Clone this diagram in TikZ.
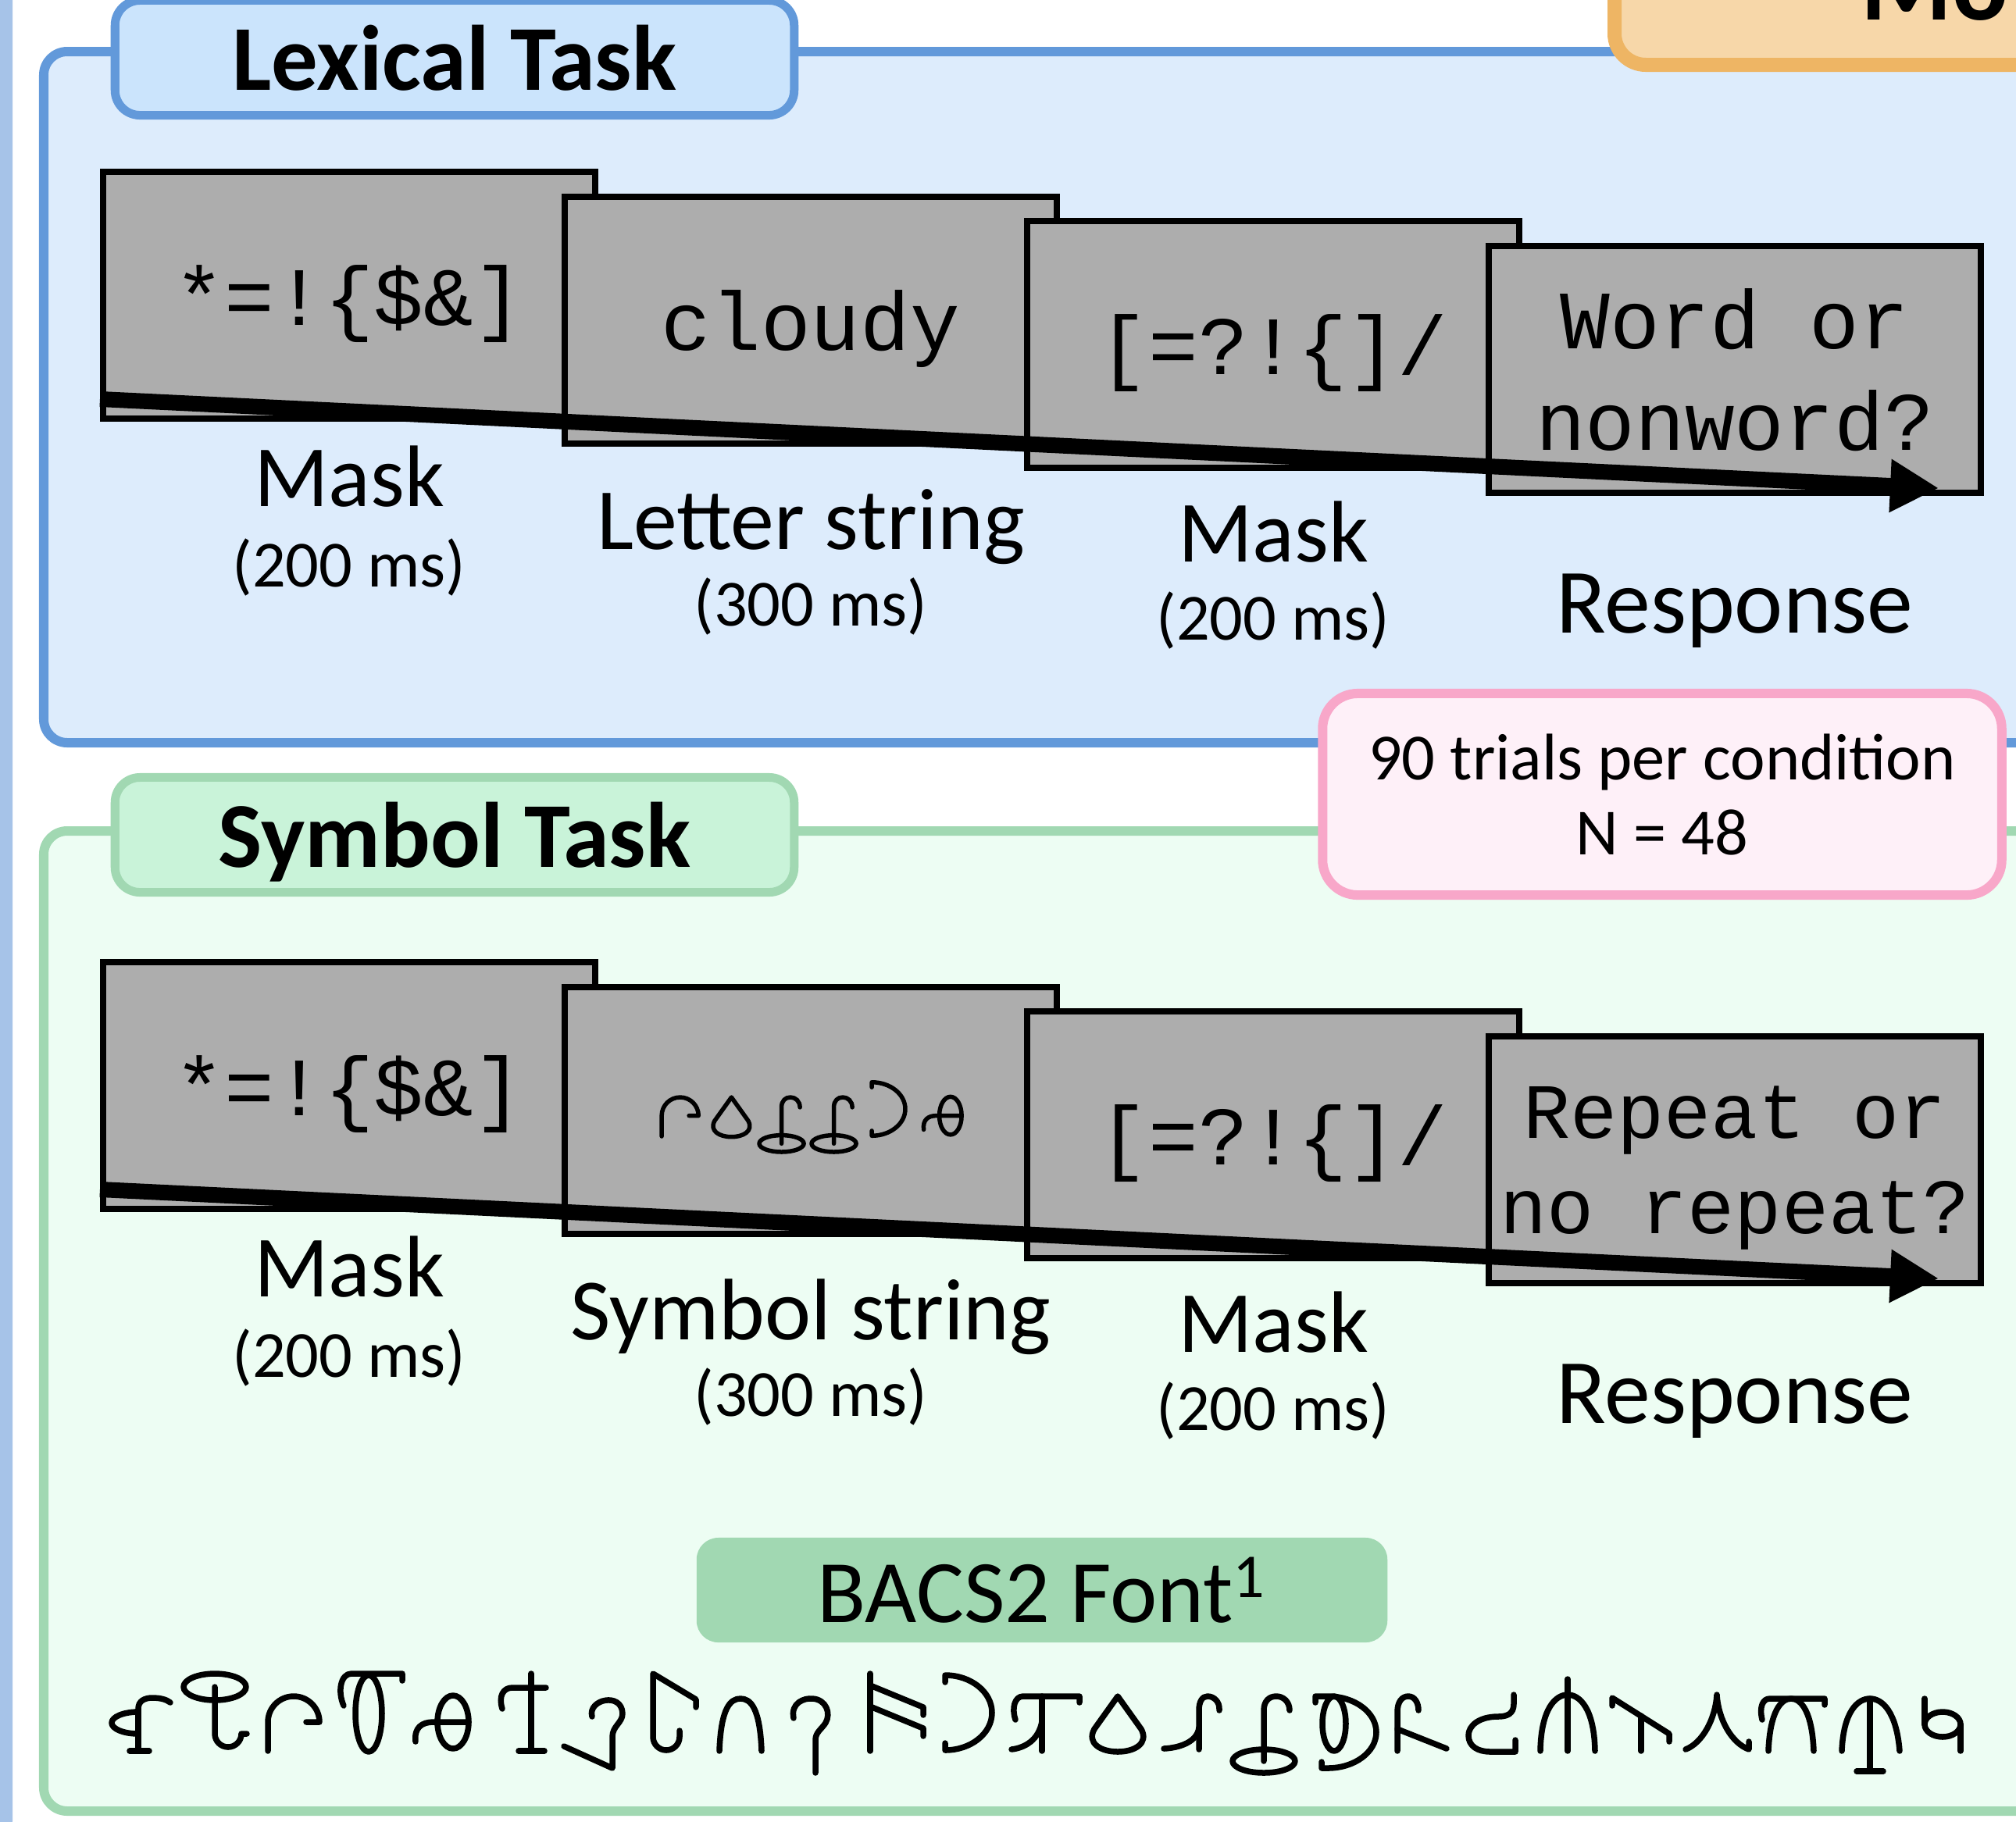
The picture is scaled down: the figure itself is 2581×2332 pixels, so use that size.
\documentclass[tikz,border=0pt]{standalone}
\usepackage{fontspec}
\setmainfont{Carlito}
\newfontfamily\monofont{Liberation Mono}
\usetikzlibrary{arrows.meta, positioning}

\definecolor{stripblue}{HTML}{A6C3E8}
\definecolor{lexfill}{HTML}{DDECFC}
\definecolor{lexline}{HTML}{6299DA}
\definecolor{lextab}{HTML}{CBE4FC}
\definecolor{symfill}{HTML}{EDFDF3}
\definecolor{symline}{HTML}{A1D8B2}
\definecolor{symtab}{HTML}{C9F3D9}
\definecolor{infofill}{HTML}{FEF0F8}
\definecolor{infoline}{HTML}{F8A7C9}
\definecolor{modfill}{HTML}{F7D7A9}
\definecolor{modline}{HTML}{EEB564}
\definecolor{stimgray}{HTML}{ADADAD}

\newcommand\labsize{\fontsize{31.8pt}{36pt}\selectfont}
\newcommand\dursize{\fontsize{24pt}{27.3pt}\selectfont}
\newcommand\tabsize{\fontsize{33.8pt}{38pt}\selectfont}
\newcommand\stimsize{\fontsize{30.2pt}{36.7pt}\selectfont}
\newcommand\respsize{\fontsize{28.5pt}{34.5pt}\selectfont}

% BACS2 glyphs, drawn at x-height 70, baseline at 0
\tikzset{
  hookfoot/.pic={
    \draw[bacs] (25,0) -- (50,0);
    \draw[bacs] (36,0) -- (36,54) .. controls (36,64) and (44,68) .. (54,68) .. controls (64,68) and (72,66) .. (77,62);
    \draw[bacs] (36,50) arc[start angle=90, end angle=270, x radius=34, y radius=14];
  },
  ringstem/.pic={
    \draw[bacs] (42,82) ellipse[x radius=40, y radius=17];
    \draw[bacs] (42,82) -- (42,22) arc[start angle=180, end angle=360, radius=17] -- (83,22);
  },
  archtick/.pic={
    \draw[bacs] (3,0) -- (3,37) arc[start angle=180, end angle=0, radius=33] -- (52,37);
  },
  tallloop/.pic={
    \draw[bacs] (40,48) ellipse[x radius=17, y radius=49];
    \draw[bacs] (8,58) .. controls (0,76) and (4,99) .. (18,99) -- (83,99) -- (83,90);
  },
  thetahook/.pic={
    \draw[bacs] (53,37) ellipse[x radius=20, y radius=34];
    \draw[bacs] (5,12) .. controls (3,30) and (13,37) .. (28,37) -- (73,37);
  },
  crossbar/.pic={
    \draw[bacs] (49,0) -- (49,99);
    \draw[bacs] (12,54) .. controls (7,70) and (13,81) .. (25,81) -- (68,81);
    \draw[bacs] (33,0) -- (66,0);
  },
  glottal/.pic={
    \draw[bacs] (40,44) .. controls (34,66) and (78,76) .. (79,48) .. controls (79,36) and (66,32) .. (66,18) -- (66,-22) -- (4,6);
  },
  flagstem/.pic={
    \draw[bacs] (78,56) -- (78,66) -- (23,99) -- (23,18) arc[start angle=180, end angle=360, radius=17] -- (57,26);
  },
  narrowarch/.pic={
    \draw[bacs] (4,0) .. controls (6,55) and (18,67) .. (31,67) .. controls (44,67) and (56,55) .. (58,0);
  },
  longglottal/.pic={
    \draw[bacs] (4,42) .. controls (0,62) and (18,68) .. (28,67) .. controls (46,66) and (52,48) .. (45,36) .. controls (40,28) and (32,24) .. (32,14) -- (32,-28);
  },
  twinflag/.pic={
    \draw[bacs] (7,0) -- (7,99);
    \draw[bacs] (7,84) -- (75,56) -- (75,46);
    \draw[bacs] (7,57) -- (75,29) -- (75,19);
  },
  bigarc/.pic={
    \draw[bacs] (3,88) -- (3,97) arc[start angle=90, end angle=-90, x radius=60, y radius=48] -- (3,10);
  },
  curlpi/.pic={
    \draw[bacs] (8,40) .. controls (3,55) and (7,70) .. (18,70) -- (90,70) -- (90,62);
    \draw[bacs] (42,70) -- (42,0);
    \draw[bacs] (42,38) .. controls (38,14) and (20,4) .. (3,2);
  },
  drop/.pic={
    \draw[bacs] (37,70) -- (7,28) .. controls (-3,10) and (15,-1) .. (37,-1) .. controls (59,-1) and (77,10) .. (67,28) -- cycle;
  },
  shorthook/.pic={
    \draw[bacs] (75,52) .. controls (76,63) and (68,70) .. (60,70) .. controls (53,70) and (49,63) .. (49,52) -- (49,2);
    \draw[bacs] (49,30) .. controls (47,12) and (25,4) .. (4,3);
  },
  ringhook/.pic={
    \draw[bacs] (40,-13) ellipse[x radius=40, y radius=15];
    \draw[bacs] (40,-13) -- (40,52) .. controls (40,64) and (47,70) .. (56,70) .. controls (65,70) and (73,63) .. (73,52);
  },
  loopcup/.pic={
    \draw[bacs] (28,35) ellipse[x radius=15, y radius=35];
    \draw[bacs] (4,62) -- (4,70) -- (20,70) arc[start angle=90, end angle=-90, x radius=62, y radius=46] -- (12,-22) -- (12,-14);
  },
  kickstem/.pic={
    \draw[bacs] (9,0) -- (9,50) .. controls (9,63) and (15,70) .. (23,70) .. controls (31,70) and (36,62) .. (36,52);
    \draw[bacs] (9,28) -- (72,3);
  },
  zigzag/.pic={
    \draw[bacs] (60,72) -- (60,60) .. controls (60,48) and (52,44) .. (40,44) .. controls (15,44) and (2,32) .. (2,20) .. controls (2,6) and (14,-1) .. (30,-1) -- (62,-1) -- (62,14);
  },
  fork/.pic={
    \draw[bacs] (37,92) -- (37,0);
    \draw[bacs] (2,0) .. controls (3,55) and (22,72) .. (37,72) .. controls (52,72) and (71,55) .. (72,0);
  },
  slash/.pic={
    \draw[bacs] (4,58) -- (4,68) -- (77,22) -- (77,12);
    \draw[bacs] (41,45) -- (41,0);
  },
  peak/.pic={
    \draw[bacs] (4,2) .. controls (25,10) and (42,40) .. (44,72) .. controls (46,40) and (63,10) .. (85,2) -- (85,12);
  },
  archbar/.pic={
    \draw[bacs] (4,40) .. controls (0,57) and (5,67) .. (14,67) -- (84,67) -- (84,59);
    \draw[bacs] (12,0) .. controls (14,50) and (28,67) .. (41,67) .. controls (54,67) and (68,50) .. (70,0);
  },
  forkbase/.pic={
    \draw[bacs] (4,0) .. controls (6,50) and (24,67) .. (40,67) .. controls (56,67) and (74,50) .. (78,0);
    \draw[bacs] (40,67) -- (40,-26);
    \draw[bacs] (23,-26) -- (57,-26);
  },
  bowl/.pic={
    \draw[bacs] (8,67) -- (8,34);
    \draw[bacs] (31,34) ellipse[x radius=23, y radius=16];
    \draw[bacs] (54,34) -- (54,0);
  }
}

\begin{document}
\begin{tikzpicture}[x=0.01cm, y=-0.01cm,
    panel/.style={line width=0.12cm, rounded corners=0.3cm},
    tab/.style={line width=0.11cm, rounded corners=0.32cm, minimum width=8.69cm,
      minimum height=1.47cm, inner sep=0pt, text depth=0pt, font=\tabsize\bfseries},
    stim/.style={draw, line width=0.08cm, fill=stimgray, minimum width=6.3cm,
      minimum height=3.16cm, inner sep=0pt, text depth=0pt, font=\monofont\stimsize},
    lab/.style={anchor=base, inner sep=0pt, font=\labsize},
    dur/.style={anchor=base, inner sep=0pt, font=\dursize},
    trial/.style={line width=0.2cm, -{Triangle[length=0.62cm, width=0.64cm]}},
    bacs/.style={line cap=round, line join=round}]
\useasboundingbox (0,0) rectangle (2581,2332);
\clip (0,0) rectangle (2581,2332);
\fill[white] (0,0) rectangle (2581,2332);

% neighbouring panel on the left
\fill[stripblue, rounded corners=0.2cm] (-100,-20) rectangle (16,2352);

% lexical task panel
\draw[panel, draw=lexline, fill=lexfill] (56,66) rectangle (2700,951);
\draw[line width=0.18cm, rounded corners=0.4cm, draw=modline, fill=modfill] (2067,-100) rectangle (2700,83);
\node[anchor=base west, inner sep=0pt, font=\fontsize{38pt}{40pt}\selectfont\bfseries] (mo) at (2382,25) {Mo};
\node[tab, draw=lexline, fill=lextab] (lextab) at (582,74) {Lexical Task};

% symbol task panel
\draw[panel, draw=symline, fill=symfill] (56,1064) rectangle (2700,2319);
\node[tab, draw=symline, fill=symtab] (symtab) at (582,1069) {Symbol Task};

\node[draw=infoline, fill=infofill, line width=0.12cm, rounded corners=0.45cm,
  minimum width=8.69cm, minimum height=2.58cm, inner sep=0pt, align=center,
  font=\dursize] (info) at (2128,1017) {90 trials per condition\\N = 48};

% lexical trial
\node[stim] (l1) at (447,378) {*=!\{\$\&]};
\node[stim] (l2) at (1038,410) {cloudy};
\node[stim] (l3) at (1630,441) {[=?!\{]/};
\node[stim, align=center] (l4) at (2221,473) {Word or\\nonword?};
\coordinate (la0) at (128,511);
\coordinate (la1) at (2482,625);
\draw[trial] (la0) -- (la1);

\node[lab] (l1lab) at (447,648) {Mask};
\node[dur] (l1dur) at (447,751) {(200 ms)};
\node[lab] (l2lab) at (1038,703) {Letter string};
\node[dur] (l2dur) at (1038,801) {(300 ms)};
\node[lab] (l3lab) at (1630,719) {Mask};
\node[dur] (l3dur) at (1630,819) {(200 ms)};
\node[lab, font=\fontsize{33.5pt}{36pt}\selectfont] (l4lab) at (2221,810) {Response};

% symbol trial
\node[stim] (s1) at (447,1390) {*=!\{\$\&]};
\node[stim] (s2) at (1038,1422) {};
\node[stim] (s3) at (1630,1453) {[=?!\{]/};
\node[stim, align=center, font=\monofont\respsize] (s4) at (2221,1485) {Repeat or\\no repeat?};
\begin{scope}[line width=0.055cm]
  \foreach \g/\gx in {archtick/845, drop/910, ringhook/972, ringhook/1039, bigarc/1114, thetahook/1179}
    {\pic[yscale=-1, scale=0.714] at (\gx,1455) {\g};}
\end{scope}
\coordinate (sa0) at (128,1523);
\coordinate (sa1) at (2482,1637);
\draw[trial] (sa0) -- (sa1);

\node[lab] (s1lab) at (447,1660) {Mask};
\node[dur] (s1dur) at (447,1763) {(200 ms)};
\node[lab] (s2lab) at (1038,1715) {Symbol string};
\node[dur] (s2dur) at (1038,1813) {(300 ms)};
\node[lab] (s3lab) at (1630,1731) {Mask};
\node[dur] (s3dur) at (1630,1831) {(200 ms)};
\node[lab, font=\fontsize{33.5pt}{36pt}\selectfont] (s4lab) at (2221,1822) {Response};

% font sample
\node[fill=symline, rounded corners=0.28cm, minimum width=8.84cm, minimum height=1.34cm,
  inner sep=0pt, text depth=0pt, font=\fontsize{32.5pt}{36pt}\selectfont] (bacs) at (1334,2036) {BACS2 Font\textsuperscript{1}};
\begin{scope}[line width=0.075cm]
  \foreach \g/\gx in {hookfoot/141, ringstem/233, archtick/340, tallloop/432, thetahook/527,
      crossbar/631, glottal/718, flagstem/813, narrowarch/917, longglottal/1012, twinflag/1107,
      bigarc/1207, curlpi/1292, drop/1394, shorthook/1486, ringhook/1578, loopcup/1680,
      kickstem/1780, zigzag/1878, fork/1970, slash/2060, peak/2154, archbar/2252,
      forkbase/2354, bowl/2456}
    {\pic[yscale=-1] at (\gx,2242) {\g};}
\end{scope}
\end{tikzpicture}
\end{document}
